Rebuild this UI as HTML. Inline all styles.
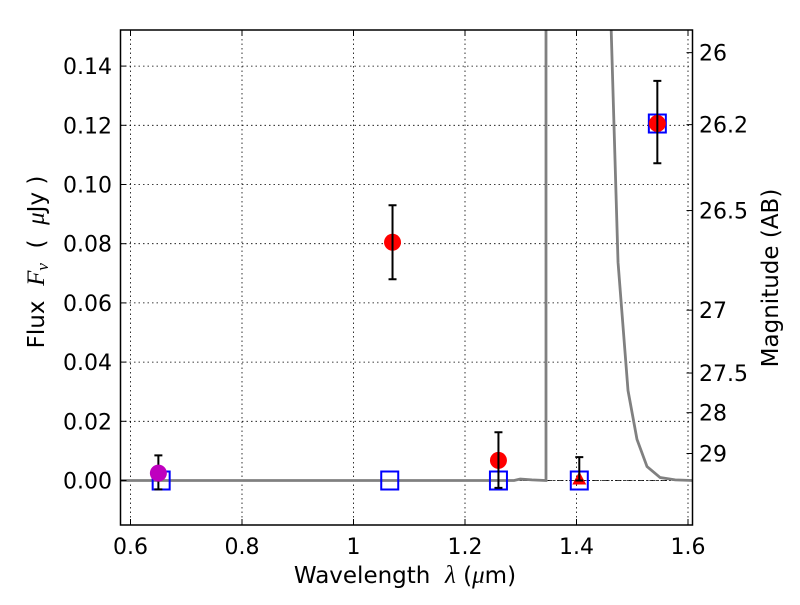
<!DOCTYPE html>
<html><head><meta charset="utf-8"><style>
body{margin:0;background:#fff}
svg text{font-family:"DejaVu Sans","Liberation Sans",sans-serif;fill:#000}
</style></head><body>
<svg id="chart" width="800" height="600" viewBox="0 0 800 600" xmlns="http://www.w3.org/2000/svg">
<g id="grid"></g>
<g id="curve"></g>
<g id="marks"></g>
<rect x="120.5" y="30" width="572" height="495" fill="none" stroke="#000" stroke-width="1.5"/>
<g id="axes"></g>
<text x="405" y="583" font-size="23" text-anchor="middle">Wavelength&#160;&#160;<tspan font-style="italic" font-family="Liberation Serif" font-size="25">λ</tspan>&#160;(<tspan font-style="italic" font-family="Liberation Serif" font-size="25">μ</tspan>m)</text>
<text transform="translate(44,262) rotate(-90)" font-size="23" text-anchor="middle">Flux&#160;&#160;<tspan font-style="italic" font-family="Liberation Serif" font-size="25">F<tspan font-size="17" dy="4">ν</tspan></tspan><tspan dy="-4">&#160;&#160;(&#160;&#160;</tspan><tspan font-style="italic" font-family="Liberation Serif" font-size="25">μ</tspan>Jy&#160;)</text>
<text transform="translate(778,278) rotate(-90)" font-size="23" text-anchor="middle">Magnitude (AB)</text>
</svg>
<script>
const xTicks=[0.6,0.8,1.0,1.2,1.4,1.6];
const xTickLabels=["0.6","0.8","1","1.2","1.4","1.6"];
const yTicks=[0,0.02,0.04,0.06,0.08,0.10,0.12,0.14];
const yTickLabels=["0.00","0.02","0.04","0.06","0.08","0.10","0.12","0.14"];
const magTicks=[26,26.2,26.5,27,27.5,28,29];
const magTickLabels=["26","26.2","26.5","27","27.5","28","29"];
const curveX=[0.58,1.288,1.299,1.32,1.345,1.3453,1.3453,1.461,1.4745,1.4924,1.5085,1.5265,1.55,1.577,1.61];
const curveY=[0,0,0.0005,0.0002,0,0,0.16,0.16,0.0737,0.0304,0.0139,0.0047,0.001,0.0002,0];
const squareX=[0.655,1.065,1.26,1.405,1.545];
const squareY=[0,0,0,0,0.1206];
const circleX=[1.07,1.26,1.545];
const circleY=[0.0805,0.0068,0.1206];
const circleErrLo=[0.068,-0.0025,0.1072];
const circleErrHi=[0.093,0.0163,0.135];
const purpleX=[0.65];const purpleY=[0.0025];const purpleLo=[-0.003];const purpleHi=[0.0085];
const triX=[1.405];const triY=[0];const triLo=[0];const triHi=[0.0079];
const NS="http://www.w3.org/2000/svg";
function xs(v){return 130.5+(v-0.6)/0.2*111.5;}
function ys(v){return 480.5-v/0.02*59.2;}
function mk(p,tag,a){const e=document.createElementNS(NS,tag);for(const k in a)e.setAttribute(k,a[k]);p.appendChild(e);return e;}
const grid=document.getElementById('grid'),axes=document.getElementById('axes'),marks=document.getElementById('marks'),cg=document.getElementById('curve');
xTicks.forEach((t,i)=>{const x=xs(t);
 const g=mk(grid,'line',{x1:x,x2:x,y1:30,y2:525,stroke:'#000','stroke-width':0.8,'stroke-dasharray':'1.5,3'});
 
 mk(axes,'line',{x1:x,x2:x,y1:525,y2:519,stroke:'#000'});mk(axes,'line',{x1:x,x2:x,y1:30,y2:36,stroke:'#000'});
 const tx=mk(axes,'text',{x:x,y:554,'font-size':22,'text-anchor':'middle'});tx.textContent=xTickLabels[i];
 });
yTicks.forEach((t,i)=>{const y=ys(t);
 const g=mk(grid,'line',{x1:120.5,x2:692.5,y1:y,y2:y,stroke:'#000','stroke-width':0.8,'stroke-dasharray':'1.5,3'});
 
 mk(axes,'line',{x1:120.5,x2:126.5,y1:y,y2:y,stroke:'#000'});
 const tx=mk(axes,'text',{x:112,y:y+8,'font-size':22,'text-anchor':'end'});tx.textContent=yTickLabels[i];
 });
magTicks.forEach((m,i)=>{const y=ys(Math.pow(10,(23.9-m)/2.5));
 mk(axes,'line',{x1:686.5,x2:692.5,y1:y,y2:y,stroke:'#000'});
 const tx=mk(axes,'text',{x:699,y:y+8,'font-size':22});tx.textContent=magTickLabels[i];
 });
const zl=mk(cg,'line',{x1:120.5,x2:692.5,y1:ys(0),y2:ys(0),stroke:'#000','stroke-width':0.8,'stroke-dasharray':'6,2,1.5,2'});

const cp=document.createElementNS(NS,'clipPath');cp.id='clip';mk(cp,'rect',{x:120.5,y:30,width:572,height:495});document.getElementById('chart').appendChild(cp);
cg.setAttribute('clip-path','url(#clip)');
const pl=mk(cg,'polyline',{points:curveX.map((v,i)=>xs(v)+','+ys(curveY[i])).join(' '),fill:'none',stroke:'#808080','stroke-width':2.8});

function err(x,lo,hi){const X0=xs(x);
 const e=mk(marks,'path',{d:`M${X0},${ys(lo)}V${ys(hi)}M${X0-4},${ys(lo)}h8M${X0-4},${ys(hi)}h8`,stroke:'#000','stroke-width':2,fill:'none'});
 }
squareX.forEach((x,i)=>{const s=mk(marks,'rect',{x:xs(x)-8.5,y:ys(squareY[i])-9,width:17,height:18,fill:'none',stroke:'#00f','stroke-width':2});
 });
purpleX.forEach((x,i)=>{err(x,purpleLo[i],purpleHi[i]);const c=mk(marks,'circle',{cx:xs(x),cy:ys(purpleY[i]),r:8.5,fill:'#bf00bf'});
 });
circleX.forEach((x,i)=>{const c=mk(marks,'circle',{cx:xs(x),cy:ys(circleY[i]),r:8.5,fill:'#f00'});
 err(x,circleErrLo[i],circleErrHi[i]);});
triX.forEach((x,i)=>{const X0=xs(x),Y0=ys(triY[i]);
 const t=mk(marks,'path',{d:`M${X0},${Y0-9}L${X0+7},${Y0+4}L${X0-7},${Y0+4}Z`,fill:'#f00'});
 err(x,triLo[i],triHi[i]);});
</script>
</body></html>
